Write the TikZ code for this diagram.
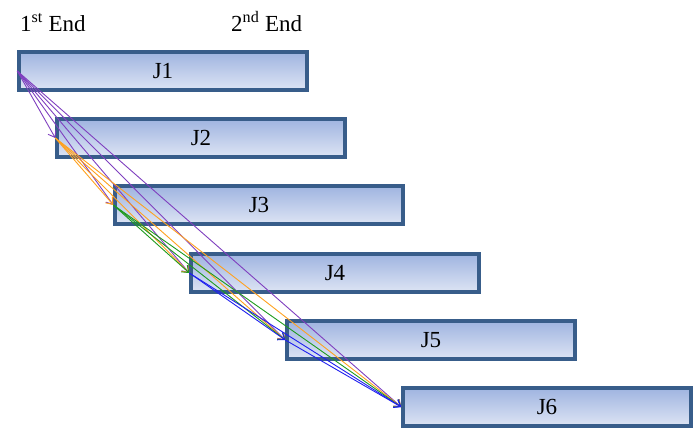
\documentclass[tikz,border=0pt]{standalone}
\usepackage{fontspec}
\setmainfont{Liberation Serif}
\usetikzlibrary{arrows.meta}
\definecolor{boxtop}{HTML}{9FB4E0}
\definecolor{boxbot}{HTML}{DDE4F4}
\definecolor{boxline}{HTML}{385D8A}
\definecolor{cpurple}{HTML}{7F3FBF}
\definecolor{corange}{HTML}{FFA11F}
\definecolor{cgreen}{HTML}{1E9A1E}
\definecolor{cblue}{HTML}{1F1FEF}
\tikzset{
  jbox/.style={draw=boxline, line width=3.4pt, top color=boxtop, bottom color=boxbot,
    minimum width=288pt, minimum height=38pt, inner sep=0pt, font=\fontsize{23}{26}\selectfont},
  lbl/.style={font=\fontsize{23}{26}\selectfont, inner sep=0pt, anchor=base west},
  link/.style={line width=0.9pt, -{Straight Barb[length=6pt,width=9pt]}}
}
\begin{document}
\begin{tikzpicture}[x=1pt,y=-1pt]
\useasboundingbox (0,0) rectangle (696,435);
\node[lbl] (e1) at (20,32) {1\textsuperscript{st} End};
\node[lbl] (e2) at (231,32) {2\textsuperscript{nd} End};
\node[jbox] (j1) at (163,71) {J1};
\node[jbox] (j2) at (201,138) {J2};
\node[jbox] (j3) at (259,205) {J3};
\node[jbox] (j4) at (335,273) {J4};
\node[jbox] (j5) at (431,340) {J5};
\node[jbox] (j6) at (547,407) {J6};
\foreach \t in {2,...,6} \draw[link, cpurple] (j1.west) -- (j\t.west);
\foreach \t in {3,...,6} \draw[link, corange] (j2.west) -- (j\t.west);
\foreach \t in {4,...,6} \draw[link, cgreen] (j3.west) -- (j\t.west);
\foreach \t in {5,6} \draw[link, cblue] (j4.west) -- (j\t.west);
\draw[link, cblue] (j5.west) -- (j6.west);
\end{tikzpicture}
\end{document}
